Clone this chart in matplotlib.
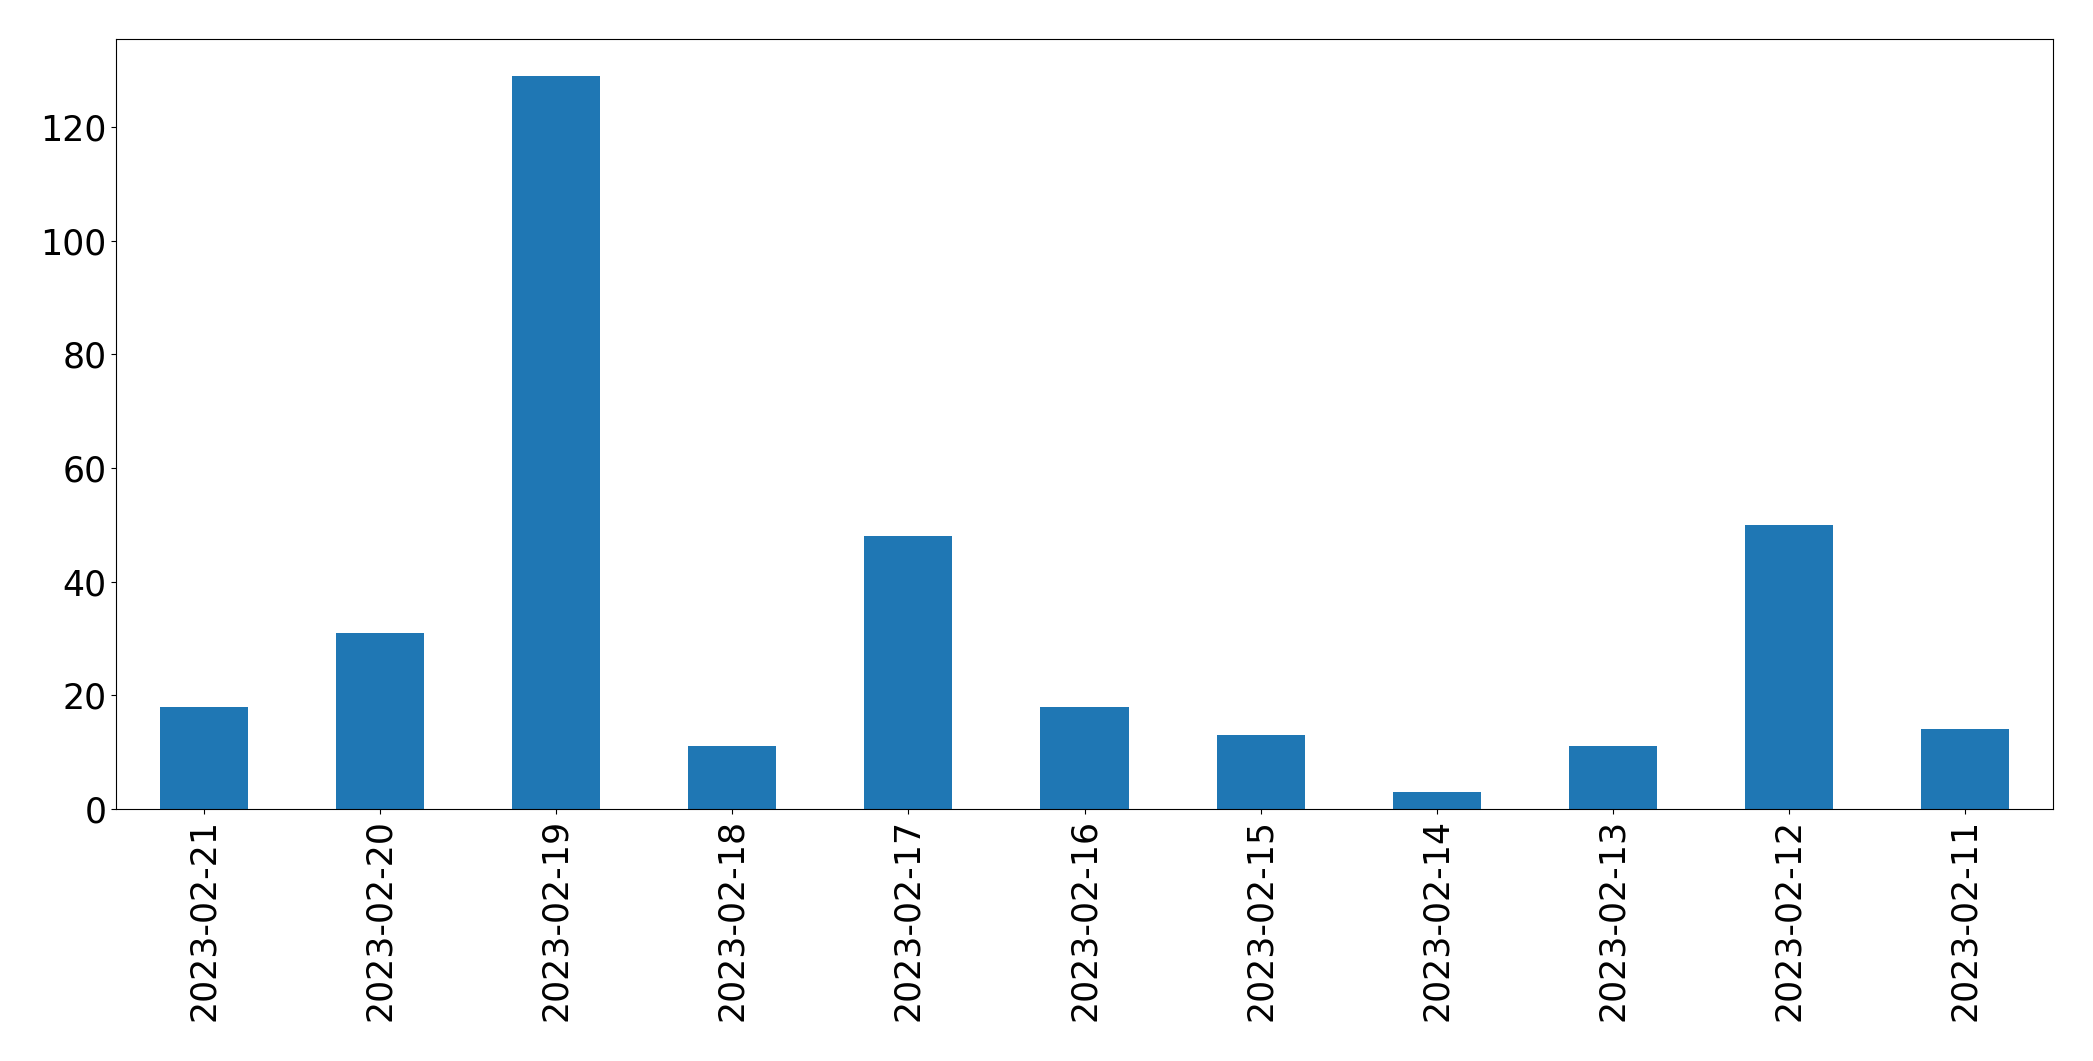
import matplotlib
matplotlib.use("Agg")
import matplotlib.pyplot as plt
import numpy as np

dates = ["2023-02-21", "2023-02-20", "2023-02-19", "2023-02-18", "2023-02-17",
         "2023-02-16", "2023-02-15", "2023-02-14", "2023-02-13", "2023-02-12",
         "2023-02-11"]
counts = [18, 31, 129, 11, 48, 18, 13, 3, 11, 50, 14]

fig = plt.figure(figsize=(20.93, 10.61), dpi=100)
ax = fig.add_axes([116/2093, 1 - 809/1061, (2053-116)/2093, (809-39)/1061])
x = np.arange(len(dates))
ax.bar(x, counts, width=0.5, color="#1f77b4")
ax.set_xlim(-0.5, len(dates) - 0.5)
ax.set_xticks(x)
ax.set_xticklabels(dates, rotation=90)
ax.tick_params(axis="both", labelsize=25)
ax.set_ylim(0, 135.5)
fig.savefig("out.png", dpi=100)
